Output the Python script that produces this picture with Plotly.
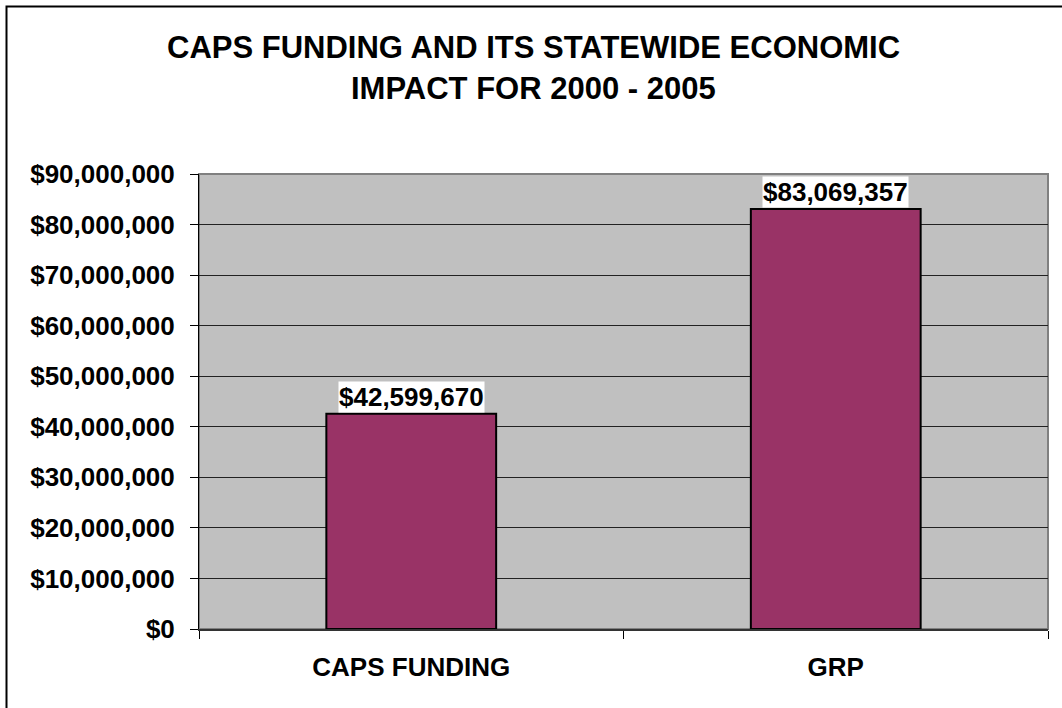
import plotly.graph_objects as go

categories = ["CAPS FUNDING", "GRP"]
values = [42599670, 83069357]
value_labels = ["$42,599,670", "$83,069,357"]
title_lines = ["CAPS FUNDING AND ITS STATEWIDE ECONOMIC", "IMPACT FOR 2000 - 2005"]

FONT = "Liberation Sans, Arial, sans-serif"
W, H = 1062, 708
L, R, T, B = 199, 14, 174, 79
pw, ph = W - L - R, H - T - B


def px_x(x):
    return (x - L) / pw


def px_y(y):
    return (H - B - y) / ph


fig = go.Figure()
fig.add_trace(go.Bar(
    x=categories, y=values,
    marker=dict(color="#993366", line=dict(color="black", width=2)),
    hoverinfo="skip",
))

annotations = []
for c, v, t in zip(categories, values, value_labels):
    annotations.append(dict(
        x=c, y=v, xref="x", yref="y", text="<b>%s</b>" % t, showarrow=False,
        yanchor="bottom", yshift=1, bgcolor="white", borderpad=0,
        font=dict(family=FONT, size=26, color="black"),
    ))
for i, (line, yc) in enumerate(zip(title_lines, [47, 88])):
    annotations.append(dict(
        x=px_x(533), y=px_y(yc), xref="paper", yref="paper",
        text="<b>%s</b>" % line, showarrow=False, yanchor="middle", xanchor="center",
        font=dict(family=FONT, size=31, color="black"),
    ))

fig.update_layout(
    width=W, height=H,
    margin=dict(l=L, r=R, t=T, b=B, pad=0),
    paper_bgcolor="white", plot_bgcolor="#C0C0C0",
    bargap=0.6, showlegend=False,
    annotations=annotations,
    shapes=[
        dict(type="rect", xref="paper", yref="paper", x0=0, x1=1, y0=0, y1=1,
             line=dict(color="#808080", width=2), layer="below"),
        dict(type="rect", xref="paper", yref="paper",
             x0=px_x(6.5), x1=px_x(1075), y0=px_y(720), y1=px_y(6.5),
             line=dict(color="black", width=2)),
    ],
)
fig.update_yaxes(
    range=[0, 90000000], dtick=10000000, tickprefix="$", tickformat=",.0f",
    showgrid=True, gridcolor="#222222", gridwidth=1,
    showline=True, linecolor="black", linewidth=1,
    ticks="outside", ticklen=8, tickcolor="black",
    ticklabelstandoff=10,
    tickfont=dict(family=FONT, size=26, color="black", weight="bold"),
    zeroline=False,
)
fig.update_xaxes(
    showline=True, linecolor="#333333", linewidth=2,
    ticks="outside", ticklen=8, tickcolor="black", tickson="boundaries",
    ticklabelstandoff=14,
    tickfont=dict(family=FONT, size=26, color="black", weight="bold"),
    showgrid=False,
)

fig.write_html("out.html")
